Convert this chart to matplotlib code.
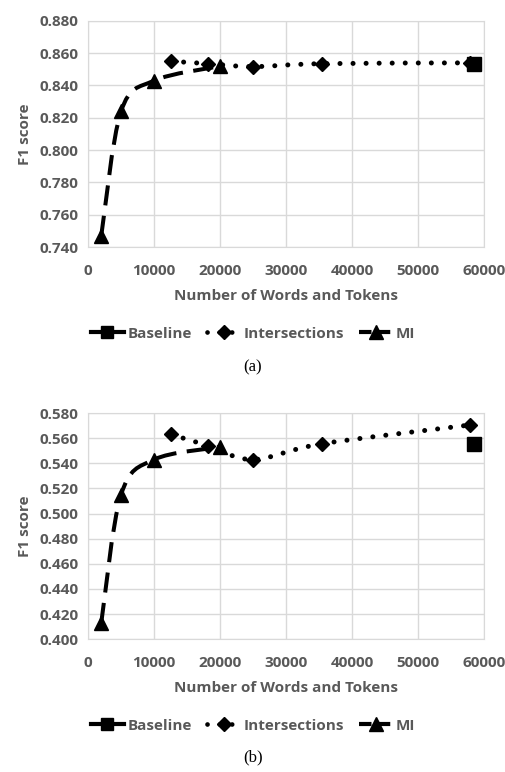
import matplotlib
matplotlib.use('Agg')
import matplotlib.pyplot as plt
from matplotlib.path import Path
from matplotlib.patches import PathPatch
from matplotlib.lines import Line2D
import numpy as np

plt.rcParams['font.family'] = ['Open Sans', 'DejaVu Sans']

# (a)
mi_x_a = [2000, 5000, 10000, 20000]
mi_y_a = [0.747, 0.824, 0.843, 0.852]
int_x_a = [12500, 18200, 25000, 35400, 57900]
int_y_a = [0.855, 0.8535, 0.8517, 0.8535, 0.854]
base_x_a = [58400]
base_y_a = [0.8535]
yticks_a = [0.740, 0.760, 0.780, 0.800, 0.820, 0.840, 0.860, 0.880]

# (b)
mi_x_b = [2000, 5000, 10000, 20000]
mi_y_b = [0.413, 0.515, 0.543, 0.553]
int_x_b = [12500, 18200, 25000, 35400, 57900]
int_y_b = [0.563, 0.554, 0.543, 0.5555, 0.5705]
base_x_b = [58400]
base_y_b = [0.5555]
yticks_b = [0.400, 0.420, 0.440, 0.460, 0.480, 0.500, 0.520, 0.540, 0.560, 0.580]

xticks = [0, 10000, 20000, 30000, 40000, 50000, 60000]

TXT = '#595959'
DASH = (0, (5, 2.6))
DOT = (0, (0.01, 2.6))


def smooth_path(x, y):
    # Excel-style smoothed line: cubic Bezier through the points
    p = np.column_stack([x, y]).astype(float)
    n = len(p)
    verts = [p[0]]
    codes = [Path.MOVETO]
    for i in range(n - 1):
        p0 = p[i - 1] if i > 0 else p[i]
        p3 = p[i + 2] if i + 2 < n else p[i + 1]
        c1 = p[i] + (p[i + 1] - p0) / 6
        c2 = p[i + 1] - (p3 - p[i]) / 6
        verts += [c1, c2, p[i + 1]]
        codes += [Path.CURVE4] * 3
    return Path(verts, codes)


def draw(ax, mi_x, mi_y, int_x, int_y, bx, by, yticks):
    pa = PathPatch(smooth_path(mi_x, mi_y), fill=False, lw=2.9, color='black',
                   linestyle=DASH, capstyle='butt', zorder=3)
    ax.add_patch(pa)
    pb = PathPatch(smooth_path(int_x, int_y), fill=False, lw=3.6, color='black',
                   linestyle=DOT, capstyle='round', zorder=3)
    ax.add_patch(pb)
    ax.plot(mi_x, mi_y, linestyle='none', marker='^', ms=10.5, color='black', zorder=4)
    ax.plot(int_x, int_y, linestyle='none', marker='D', ms=7.5, color='black', zorder=4)
    ax.plot(bx, by, linestyle='none', marker='s', ms=9.5, color='black', zorder=4)

    ax.set_xlim(0, 60000)
    ax.set_ylim(yticks[0], yticks[-1])
    ax.set_xticks(xticks)
    ax.set_yticks(yticks)
    ax.set_yticklabels(['%.3f' % v for v in yticks])
    ax.grid(True, color='#d9d9d9', lw=1)
    ax.set_axisbelow(True)
    for s in ax.spines.values():
        s.set_color('#d9d9d9')
    ax.tick_params(length=0, labelsize=11, labelcolor=TXT)
    ax.tick_params(axis='x', pad=12)
    ax.tick_params(axis='y', pad=7)
    for lab in ax.get_xticklabels() + ax.get_yticklabels():
        lab.set_fontweight('bold')
    ax.set_xlabel('Number of Words and Tokens', fontsize=11, fontweight='bold', color=TXT, labelpad=8)
    ax.set_ylabel('F1 score', fontsize=11, fontweight='bold', color=TXT, labelpad=5)


fig = plt.figure(figsize=(5.06, 7.72), dpi=100)
ax1 = fig.add_axes([0.174, 0.680, 0.783, 0.293])
ax2 = fig.add_axes([0.174, 0.172, 0.783, 0.293])
draw(ax1, mi_x_a, mi_y_a, int_x_a, int_y_a, base_x_a, base_y_a, yticks_a)
draw(ax2, mi_x_b, mi_y_b, int_x_b, int_y_b, base_x_b, base_y_b, yticks_b)

handles = [
    Line2D([], [], color='black', lw=3, marker='s', ms=9),
    Line2D([], [], color='black', lw=3.4, linestyle=DOT, dash_capstyle='round', marker='D', ms=7),
    Line2D([], [], color='black', lw=3, linestyle=(0, (3, 1.5)), marker='^', ms=10),
]
names = ['Baseline', 'Intersections', 'MI']
for yl in [0.568, 0.060]:
    leg = fig.legend(handles, names, loc='center', bbox_to_anchor=(0.5, yl), ncol=3,
                     frameon=False, handlelength=2.2, handletextpad=0.2, columnspacing=1.0,
                     prop={'size': 11, 'weight': 'bold'})
    for t in leg.get_texts():
        t.set_color(TXT)

fig.text(0.5, 0.524, '(a)', ha='center', va='center', fontsize=12, family='Liberation Serif')
fig.text(0.5, 0.019, '(b)', ha='center', va='center', fontsize=12, family='Liberation Serif')

fig.savefig('out.png', dpi=100)
